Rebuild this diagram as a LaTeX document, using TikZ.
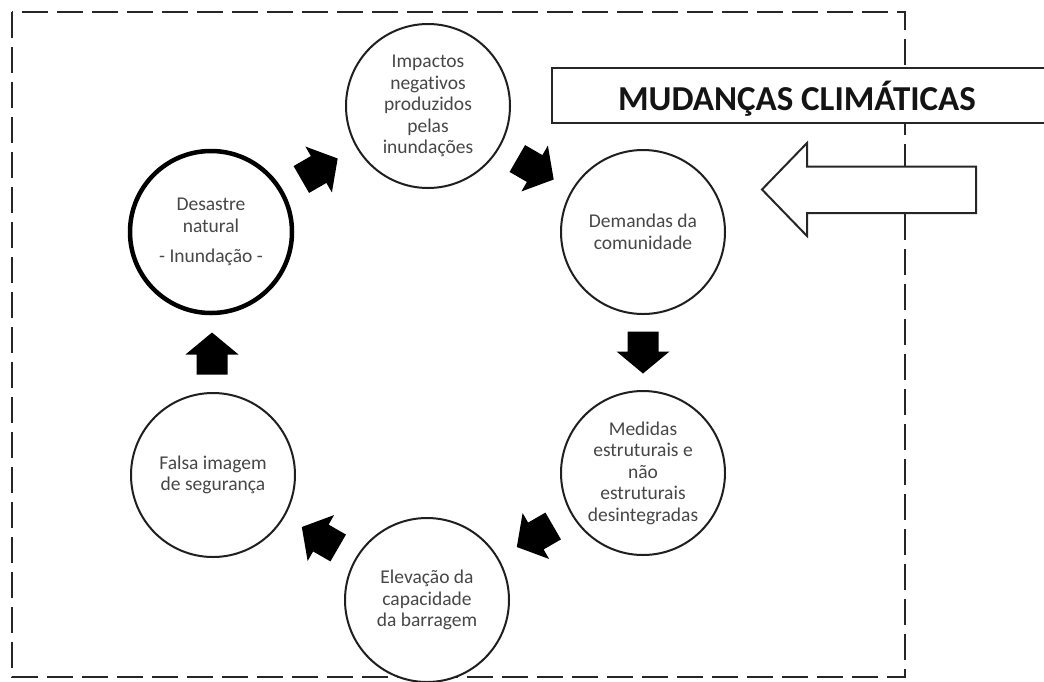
\documentclass[tikz,border=0pt]{standalone}
\usepackage{fontspec}
\setmainfont{Carlito}[Ligatures=NoCommon]
\usetikzlibrary{calc}
\begin{document}
\begin{tikzpicture}[x=1pt,y=-1pt,
  stage/.style={circle,draw=black!88,line width=2pt,fill=white,minimum size=164pt,
    inner sep=0pt,align=center,text=black!72,font=\fontsize{19.5}{21.5}\selectfont},
  keystage/.style={stage,draw=black,line width=4.5pt,minimum size=162pt},
  barrow/.pic={\fill[black] (-21,-15.5) -- (-1,-15.5) -- (-1,-26.5) -- (21,0)
     -- (-1,26.5) -- (-1,15.5) -- (-21,15.5) -- cycle;},
  frame/.style={draw=black!85,line width=2.6pt,dash pattern=on 26pt off 9pt},
  banner/.style={draw=black!85,line width=2pt,fill=white},
]
\useasboundingbox (0,0) rectangle (1044,681);
\clip (0,0) rectangle (1044,681);

% dashed frame
\draw[frame] (12,12) rectangle (905,677);

% banner and open arrow
\draw[banner] (552,68) rectangle (1060,123);
\node[anchor=base,font=\fontsize{35}{40}\selectfont\bfseries,text=black!92] (title) at (797,110) {MUDANÇAS CLIMÁTICAS};
\draw[banner,line join=miter] (762,189.5) -- (807,143) -- (807,166.5) -- (976,166.5) -- (976,213)
   -- (807,213) -- (807,236) -- cycle;

% stages
\node[stage] (impactos) at (428,106) {Impactos\\negativos\\produzidos\\pelas\\inundações};
\node[stage] (demandas) at (643,232) {Demandas da\\comunidade};
\node[stage] (medidas) at (643,473) {Medidas\\estruturais e\\não\\estruturais\\desintegradas};
\node[stage] (elevacao) at (427,600) {Elevação da\\capacidade\\da barragem};
\node[stage] (falsa) at (213,475) {Falsa imagem\\de segurança};
\node[keystage] (desastre) at (211,232) {Desastre\\natural\\[9pt]- Inundação -};

% block arrows between stages
\path ($(desastre)!0.5!(impactos)$) pic[rotate=30] {barrow};
\path ($(impactos)!0.5!(demandas)$) pic[rotate=-30] {barrow};
\path ($(demandas)!0.5!(medidas)$) pic[rotate=-90] {barrow};
\path ($(medidas)!0.5!(elevacao)$) pic[rotate=210] {barrow};
\path ($(elevacao)!0.5!(falsa)$) pic[rotate=150] {barrow};
\path ($(falsa)!0.5!(desastre)$) pic[rotate=90] {barrow};
\end{tikzpicture}
\end{document}
